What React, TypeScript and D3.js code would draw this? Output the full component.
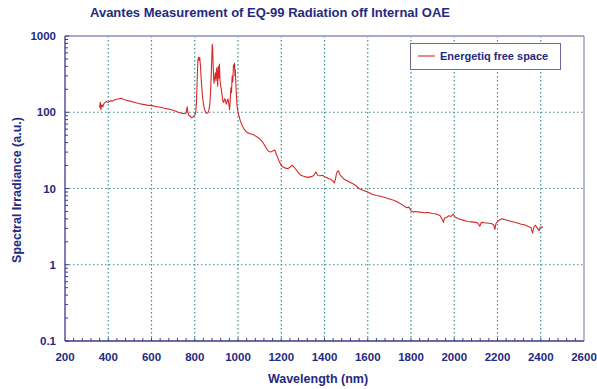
import React from 'react';
import { scaleLinear, scaleLog, line, range } from 'd3';

const wavelengths = [
  360, 363, 366, 370, 375, 380, 390, 400, 410, 420, 430, 440, 450, 460, 470, 480, 490, 500,
  520, 540, 560, 580, 600, 620, 640, 660, 680, 700, 710, 720, 730, 740, 750, 760, 765, 768,
  772, 776, 780, 785, 790, 795, 800, 805, 808, 811, 814, 817, 820, 823, 826, 829, 832, 836,
  840, 845, 850, 855, 860, 865, 870, 873, 876, 879, 881, 883, 885, 887, 889, 892, 895, 898,
  901, 904, 906, 908, 911, 914, 917, 920, 923, 926, 930, 934, 938, 942, 946, 950, 954, 958,
  961, 964, 967, 970, 973, 976, 979, 982, 984, 986, 988, 990, 993, 996, 1000, 1005, 1010,
  1015, 1020, 1030, 1040, 1050, 1060, 1070, 1080, 1090, 1100, 1110, 1120, 1130, 1140, 1150,
  1160, 1170, 1180, 1190, 1200, 1210, 1220, 1230, 1240, 1250, 1260, 1270, 1280, 1290, 1300,
  1320, 1340, 1350, 1360, 1365, 1370, 1380, 1390, 1400, 1410, 1420, 1430, 1440, 1445, 1450,
  1455, 1460, 1465, 1470, 1480, 1490, 1500, 1520, 1540, 1560, 1580, 1600, 1620, 1640, 1660,
  1680, 1700, 1720, 1740, 1760, 1780, 1790, 1800, 1810, 1820, 1840, 1860, 1880, 1900, 1920,
  1935, 1945, 1950, 1955, 1965, 1975, 1985, 1995, 2005, 2020, 2040, 2060, 2080, 2100, 2110,
  2118, 2125, 2140, 2160, 2175, 2183, 2188, 2193, 2205, 2220, 2235, 2250, 2265, 2280, 2295,
  2310, 2325, 2340, 2355, 2362, 2368, 2375, 2385, 2392, 2398, 2404, 2410,
];

const irradiance = [
  115, 135, 108, 125, 118, 130, 138, 135, 142, 140, 146, 148, 150, 153, 148, 145, 142, 140,
  135, 130, 127, 124, 122, 119, 116, 113, 110, 106, 104, 101, 99, 97, 96, 98, 118, 100,
  92, 90, 88, 85, 86, 88, 92, 100, 140, 250, 450, 530, 480, 520, 420, 300, 220, 160,
  130, 110, 100, 97, 98, 105, 130, 180, 300, 520, 780, 700, 420, 300, 240, 280, 330, 260,
  380, 300, 220, 400, 280, 430, 260, 220, 200, 170, 140, 135, 150, 145, 128, 140, 150, 125,
  108, 140, 210, 180, 300, 250, 420, 380, 440, 300, 360, 240, 160, 120, 100, 88, 78,
  72, 66, 59, 55, 53, 52, 51, 49, 47, 45, 42, 38, 34, 31, 30,
  31, 32, 27, 23, 20, 19, 18.5, 18.2, 19, 20.2, 19, 17.5, 16, 15, 14.6,
  14, 14.3, 14.8, 16.5, 15.5, 14.8, 14.7, 14.9, 14.3, 13.9, 13.4, 13.2, 12.4, 11.8, 13,
  15.5, 16.8, 17, 15.5, 14.2, 13.3, 12.8, 12, 11.2, 10, 9.4, 9, 8.4, 8.1, 7.9,
  7.6, 7.3, 7, 6.6, 6.1, 5.6, 5.7, 5.1, 4.9, 5.0, 4.9, 4.8, 4.85, 4.7, 4.6,
  4.4, 3.9, 3.6, 4.1, 4.2, 4.4, 4.3, 4.6, 4.2, 4.0, 3.85, 3.7, 3.65, 3.6, 3.5,
  3.2, 3.6, 3.55, 3.5, 3.45, 3.3, 2.9, 3.5, 3.8, 4.0, 3.9, 3.8, 3.7, 3.6, 3.5,
  3.4, 3.35, 3.2, 3.05, 2.6, 3.1, 3.3, 3.0, 2.8, 3.1, 3.15, 3.05,
];

const xTicks = [200, 400, 600, 800, 1000, 1200, 1400, 1600, 1800, 2000, 2200, 2400, 2600];
const yTicks = [0.1, 1, 10, 100, 1000];
const yTickLabels = ['0.1', '1', '10', '100', '1000'];

const navy = '#1f2a80';
const grid = '#3a8f8f';

export default function App() {
  const left = 65, right = 584, top = 36, bottom = 341;
  const x = scaleLinear().domain([200, 2600]).range([left, right]);
  const y = scaleLog().domain([0.1, 1000]).range([bottom, top]);

  const pts = wavelengths.map((w, i) => [w, irradiance[i]] as [number, number]);
  const path = line<[number, number]>()
    .x((d) => x(d[0]))
    .y((d) => y(d[1]))(pts);

  const minorY: number[] = [];
  [0.1, 1, 10, 100].forEach((d) => {
    for (let k = 2; k <= 9; k++) minorY.push(d * k);
  });
  const minorX = range(240, 2600, 40);

  return (
    <svg width={597} height={389} style={{ position: 'absolute', left: 0, top: 0, background: '#fff' }}
      fontFamily="'Liberation Sans', Arial, sans-serif">
      <text x={270} y={17} textAnchor="middle" fontSize={13} fontWeight="bold" fill={navy}>
        Avantes Measurement of EQ-99 Radiation off Internal OAE
      </text>

      {/* grid */}
      {xTicks.slice(1, -1).map((t) => (
        <line key={'gx' + t} x1={x(t)} x2={x(t)} y1={top} y2={bottom}
          stroke={grid} strokeWidth={1.2} strokeDasharray="1.5,2.5" />
      ))}
      {yTicks.slice(1, -1).map((t) => (
        <line key={'gy' + t} x1={left} x2={right} y1={y(t)} y2={y(t)}
          stroke={grid} strokeWidth={1.2} strokeDasharray="1.5,2.5" />
      ))}

      {/* frame */}
      <line x1={left} x2={right} y1={top} y2={top} stroke="#a9a9cf" strokeWidth={2} />
      <line x1={right} x2={right} y1={top} y2={bottom} stroke="#8a8ab8" strokeWidth={1.2} />
      <line x1={left} x2={left} y1={top} y2={bottom} stroke="#3a3a8a" strokeWidth={1.3} />
      <line x1={left} x2={right} y1={bottom} y2={bottom} stroke="#3a3a8a" strokeWidth={1.3} />

      {/* y ticks */}
      {yTicks.map((t) => (
        <line key={'ty' + t} x1={left} x2={left + 4} y1={y(t)} y2={y(t)} stroke="#3a3a8a" />
      ))}
      {minorY.map((t) => (
        <line key={'my' + t} x1={left} x2={left + 3} y1={y(t)} y2={y(t)} stroke="#3a3a8a" />
      ))}
      {yTicks.map((t, i) => (
        <text key={'ly' + t} x={56} y={y(t) + 4} textAnchor="end" fontSize={11.5} fontWeight="bold" fill={navy}>
          {yTickLabels[i]}
        </text>
      ))}

      {/* x ticks */}
      {minorX.map((t) => (
        <line key={'mx' + t} x1={x(t)} x2={x(t)} y1={bottom} y2={bottom - 3} stroke="#3a3a8a" />
      ))}
      {xTicks.map((t) => (
        <text key={'lx' + t} x={x(t)} y={361} textAnchor="middle" fontSize={11.5} fontWeight="bold" fill={navy}>
          {t}
        </text>
      ))}

      <text x={318} y={383} textAnchor="middle" fontSize={12.5} fontWeight="bold" fill={navy}>
        Wavelength (nm)
      </text>
      <text transform="translate(21,190) rotate(-90)" textAnchor="middle" fontSize={12.5} fontWeight="bold" fill={navy}>
        Spectral Irradiance (a.u.)
      </text>

      {/* spectrum */}
      <path d={path ?? ''} fill="none" stroke="#d42a2a" strokeWidth={1.1} strokeLinejoin="round" />

      {/* legend */}
      <rect x={410.5} y={43.5} width={150} height={26} fill="#fff" stroke="#6a6aa0" strokeWidth={1} />
      <line x1={418} x2={435} y1={56} y2={56} stroke="#d42a2a" strokeWidth={1.1} />
      <text x={440} y={60} fontSize={11} fontWeight="bold" fill={navy}>Energetiq free space</text>
    </svg>
  );
}
